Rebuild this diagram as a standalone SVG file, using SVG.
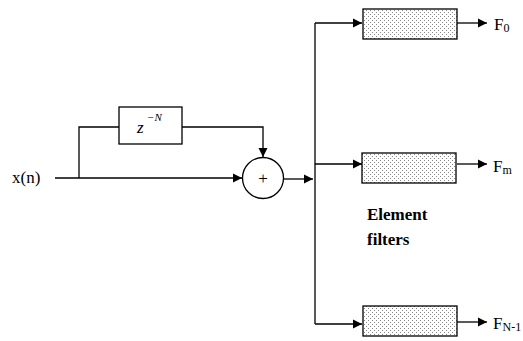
<svg xmlns="http://www.w3.org/2000/svg" width="523" height="341" viewBox="0 0 523 341">
<defs>
<pattern id="dots" width="4" height="4" patternUnits="userSpaceOnUse">
<rect width="4" height="4" fill="#ffffff"/>
<rect x="0" y="0" width="1" height="1" fill="#888"/>
<rect x="2" y="2" width="1" height="1" fill="#888"/>
</pattern>
<marker id="arr" markerWidth="10" markerHeight="10" refX="9" refY="5" orient="auto" markerUnits="userSpaceOnUse">
<path d="M0,0.5 L9,5 L0,9.5 Z" fill="#000"/>
</marker>
</defs>
<style>
.ln{stroke:#000;stroke-width:1.3;fill:none}
.box{stroke:#000;stroke-width:1.3}
text{font-family:'Liberation Serif','DejaVu Serif','Times New Roman',serif;fill:#000}
</style>
<rect width="523" height="341" fill="#fff"/>
<g id="connectors">
<path class="ln" d="M55,178 H242" marker-end="url(#arr)"/>
<path class="ln" d="M79,178 V127 H119"/>
<path class="ln" d="M182,127 H263 V157" marker-end="url(#arr)"/>
<path class="ln" d="M284,179 H313" marker-end="url(#arr)"/>
<path class="ln" d="M315,23 V324"/>
<path class="ln" d="M315,23 H362" marker-end="url(#arr)"/>
<path class="ln" d="M315,164 H362" marker-end="url(#arr)"/>
<path class="ln" d="M315,324 H362" marker-end="url(#arr)"/>
<path class="ln" d="M457,23 H487" marker-end="url(#arr)"/>
<path class="ln" d="M457,164 H487" marker-end="url(#arr)"/>
<path class="ln" d="M457,322 H487" marker-end="url(#arr)"/>
</g>
<g id="input"><text font-family="Liberation Serif, serif" x="12" y="183" font-size="17">x(n)</text></g>
<g id="delay">
<rect class="box" x="119" y="107" width="63" height="37" fill="#fff"/>
<text font-family="Liberation Serif, serif" x="137" y="133" font-size="17" font-style="italic">z</text>
<text font-family="Liberation Serif, serif" x="147" y="121" font-size="11" font-style="italic">−N</text>
</g>
<g id="sum">
<circle class="box" cx="263" cy="178" r="20.5" fill="#fff"/>
<text font-family="Liberation Serif, serif" x="263" y="184" font-size="17" text-anchor="middle">+</text>
</g>
<g id="filter0">
<rect class="box" x="363" y="9" width="94" height="30" fill="url(#dots)"/>
</g>
<g id="filterm">
<rect class="box" x="362" y="153" width="94" height="30" fill="url(#dots)"/>
</g>
<g id="filterN1">
<rect class="box" x="363" y="306" width="94" height="30" fill="url(#dots)"/>
</g>
<g id="labels">
<text font-family="Liberation Serif, serif" x="494" y="30" font-size="17">F<tspan font-size="12" dy="2">0</tspan></text>
<text font-family="Liberation Serif, serif" x="493" y="172" font-size="17">F<tspan font-size="12" dy="2">m</tspan></text>
<text font-family="Liberation Serif, serif" x="493" y="329" font-size="17">F<tspan font-size="12" dy="2">N-1</tspan></text>
<text font-family="Liberation Serif, serif" x="367" y="220" font-size="17" font-weight="bold">Element</text>
<text font-family="Liberation Serif, serif" x="367" y="245" font-size="17" font-weight="bold">filters</text>
</g>
</svg>
